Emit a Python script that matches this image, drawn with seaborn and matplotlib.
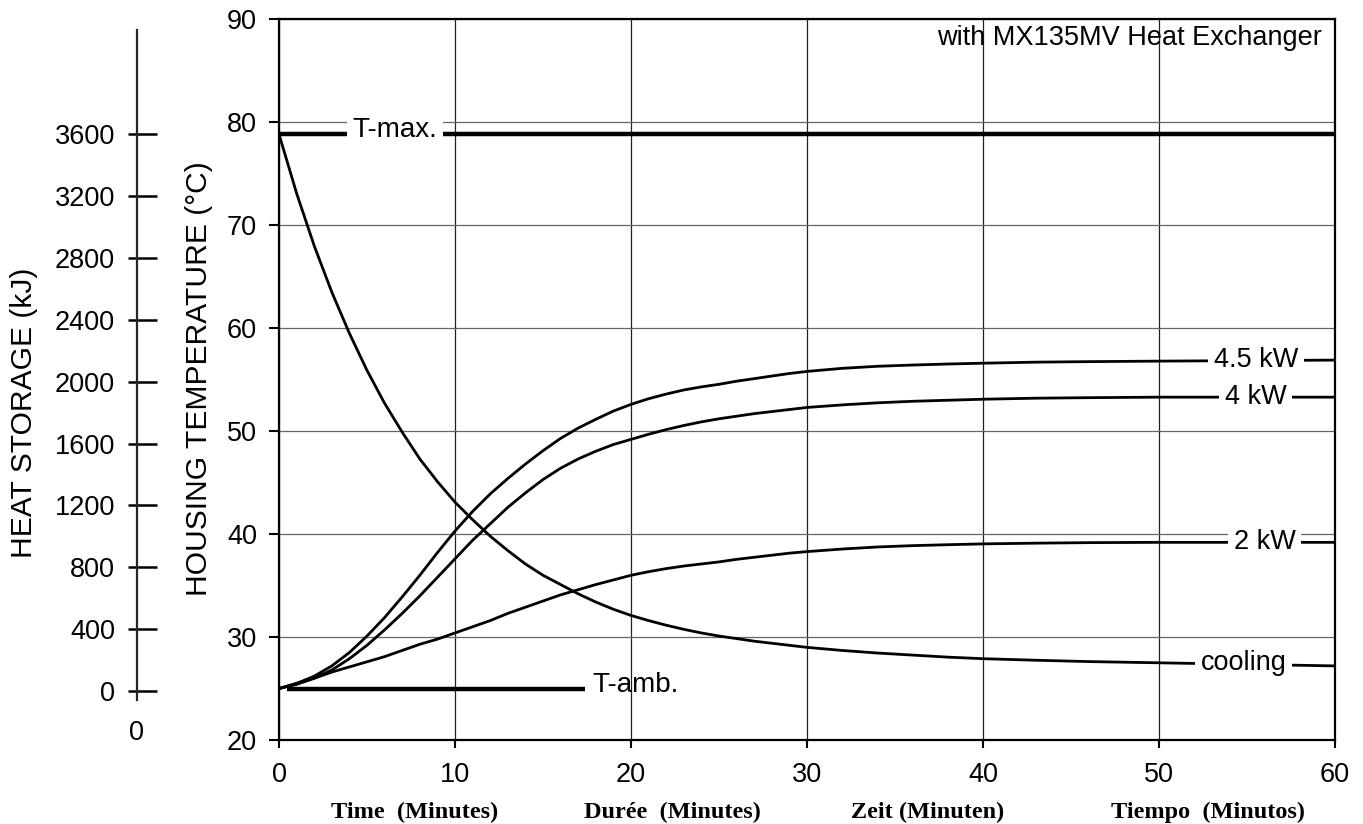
import numpy as np
import pandas as pd
import matplotlib
matplotlib.use("Agg")
import matplotlib.pyplot as plt
from matplotlib.ticker import FixedLocator
import seaborn as sns

sns.set_style("ticks")
plt.rcParams["font.family"] = ["Liberation Sans", "DejaVu Sans"]
plt.rcParams["text.color"] = "black"
plt.rcParams["xtick.color"] = "black"
plt.rcParams["ytick.color"] = "black"
plt.rcParams["axes.labelcolor"] = "black"

# time axis (minutes) shared by all read-off curves
minutes = [0, 1, 2, 3, 4, 5, 6, 7, 8, 9, 10, 11, 12, 13, 14, 15, 16, 17, 18, 19, 20,
           21, 22, 23, 24, 25, 26, 27, 28, 29, 30, 32, 34, 36, 38, 40, 43, 46, 50, 55, 60]
temp_45kw = [25.0, 25.5, 26.2, 27.2, 28.5, 30.1, 31.9, 33.9, 36.0, 38.2, 40.3, 42.2, 43.9,
             45.4, 46.8, 48.1, 49.3, 50.3, 51.15, 51.95, 52.6,
             53.15, 53.6, 54.0, 54.3, 54.55, 54.85, 55.1, 55.35, 55.6, 55.8,
             56.1, 56.3, 56.42, 56.52, 56.6, 56.7, 56.75, 56.8, 56.85, 56.9]
temp_4kw = [25.0, 25.4, 26.0, 26.8, 27.9, 29.2, 30.7, 32.3, 34.0, 35.8, 37.6, 39.4, 41.0,
            42.6, 44.0, 45.3, 46.4, 47.3, 48.05, 48.7, 49.2,
            49.7, 50.15, 50.55, 50.9, 51.2, 51.45, 51.7, 51.9, 52.1, 52.3,
            52.55, 52.75, 52.9, 53.0, 53.1, 53.2, 53.25, 53.3, 53.3, 53.3]
temp_2kw = [25.0, 25.5, 26.0, 26.6, 27.1, 27.6, 28.1, 28.7, 29.3, 29.8, 30.4, 31.0, 31.6,
            32.3, 32.9, 33.5, 34.1, 34.6, 35.1, 35.55, 36.0,
            36.35, 36.65, 36.9, 37.1, 37.3, 37.55, 37.75, 37.95, 38.15, 38.3,
            38.55, 38.75, 38.88, 38.97, 39.05, 39.12, 39.17, 39.2, 39.2, 39.2]
temp_cooling = [78.84, 73.1, 68.0, 63.5, 59.5, 55.9, 52.7, 49.9, 47.3, 45.1, 43.1, 41.4, 39.8,
                38.4, 37.1, 36.0, 35.1, 34.2, 33.4, 32.7, 32.1,
                31.6, 31.15, 30.75, 30.4, 30.1, 29.85, 29.6, 29.4, 29.2, 29.0,
                28.7, 28.45, 28.25, 28.05, 27.9, 27.75, 27.62, 27.5, 27.35, 27.2]

t_max = 78.84
t_amb = 25.0
t_amb_span = [0.44, 17.4]

x_ticks = [0, 10, 20, 30, 40, 50, 60]
y_ticks = [20, 30, 40, 50, 60, 70, 80, 90]
heat_ticks = [0, 400, 800, 1200, 1600, 2000, 2400, 2800, 3200, 3600]
heat_zero_temp = 24.76          # 0 kJ sits here on the temperature scale
heat_per_deg = 3600 / (t_max - heat_zero_temp)

curve_labels = ["4.5 kW", "4 kW", "2 kW", "cooling"]
label_pos = [(55.5, 56.9), (55.5, 53.3), (56.0, 39.2), (54.8, 27.5)]
bottom_labels = ["Time  (Minutes)", "Durée  (Minutes)", "Zeit (Minuten)", "Tiempo  (Minutos)"]

df = pd.DataFrame({"t": minutes, "4.5 kW": temp_45kw, "4 kW": temp_4kw,
                   "2 kW": temp_2kw, "cooling": temp_cooling})
long = df.melt(id_vars="t", var_name="curve", value_name="temp")

fig = plt.figure(figsize=(13.63, 8.24), dpi=100)
ax = fig.add_axes([0.2047, 0.1019, 0.7748, 0.8747])

sns.lineplot(data=long, x="t", y="temp", hue="curve", ax=ax,
             palette=["black"] * 4, lw=2.0, legend=False, zorder=3)
ax.plot([0, 60], [t_max, t_max], color="black", lw=3.2, zorder=3, solid_capstyle="butt")
ax.plot(t_amb_span, [t_amb, t_amb], color="black", lw=3.2, zorder=3, solid_capstyle="butt")

ax.set_xlim(0, 60)
ax.set_ylim(20, 90)
ax.set_xticks(x_ticks)
ax.set_yticks(y_ticks)
ax.set_xlabel("")
ax.set_ylabel("")
ax.xaxis.grid(True, color="#222222", lw=0.9)
ax.yaxis.grid(True, color="#666666", lw=0.9)
for s in ax.spines.values():
    s.set_linewidth(1.6)
    s.set_color("black")
    s.set_visible(True)
ax.tick_params(axis="x", direction="out", length=5.8, width=1.5, pad=10, labelsize=19.5)
ax.tick_params(axis="y", direction="out", length=7.2, width=1.5, pad=8.5, labelsize=19.5)

box = dict(facecolor="white", edgecolor="none", pad=4)
ax.text(6.6, 79.2, "T-max.", fontsize=20, ha="center", va="center", bbox=box, zorder=5)
ax.text(17.78, 25.3, "T-amb.", fontsize=20, ha="left", va="center", zorder=5)
for name, (xp, yp) in zip(curve_labels, label_pos):
    ax.text(xp, yp, name, fontsize=19.5, ha="center", va="center", bbox=box, zorder=5)
ax.text(0.9877, 0.974, "with MX135MV Heat Exchanger", transform=ax.transAxes,
        fontsize=19.5, ha="right", va="center")

# heat storage scale, linear with the housing temperature
ax2 = ax.twinx()
ax2.set_ylim((20 - heat_zero_temp) * heat_per_deg, (90 - heat_zero_temp) * heat_per_deg)
for k in ["top", "right", "bottom"]:
    ax2.spines[k].set_visible(False)
ax2.spines["left"].set_visible(True)
ax2.spines["left"].set_position(("axes", -0.1345))
ax2.spines["left"].set_linewidth(1.6)
ax2.spines["left"].set_bounds(-58, 4274)
ax2.yaxis.set_ticks_position("left")
ax2.set_yticks(heat_ticks)
ax2.yaxis.remove_overlapping_locs = False
ax2.yaxis.set_minor_locator(FixedLocator(heat_ticks))
ax2.tick_params(axis="y", which="major", direction="in", length=14.4, width=1.8,
                pad=15.8, labelsize=19.5)
ax2.tick_params(axis="y", which="minor", direction="out", length=6.5, width=1.8)
ax2.set_ylabel("")

fig.text(137 / 1363, 1 - 733 / 824, "0", fontsize=19.5, ha="center", va="center")
fig.text(24 / 1363, 1 - 413 / 824, "HEAT STORAGE (kJ)", rotation=90,
         fontsize=21.6, ha="center", va="center")
fig.text(199 / 1363, 1 - 379 / 824, "HOUSING TEMPERATURE (°C)", rotation=90,
         fontsize=21.6, ha="center", va="center")

for xc, lab in zip([415, 672, 928, 1208], bottom_labels):
    fig.text(xc / 1363, 1 - 812 / 824, lab, fontsize=17.5, fontweight="bold",
             family=["Liberation Serif", "DejaVu Serif"], ha="center", va="center")

fig.savefig("out.png", dpi=100, facecolor="white")
